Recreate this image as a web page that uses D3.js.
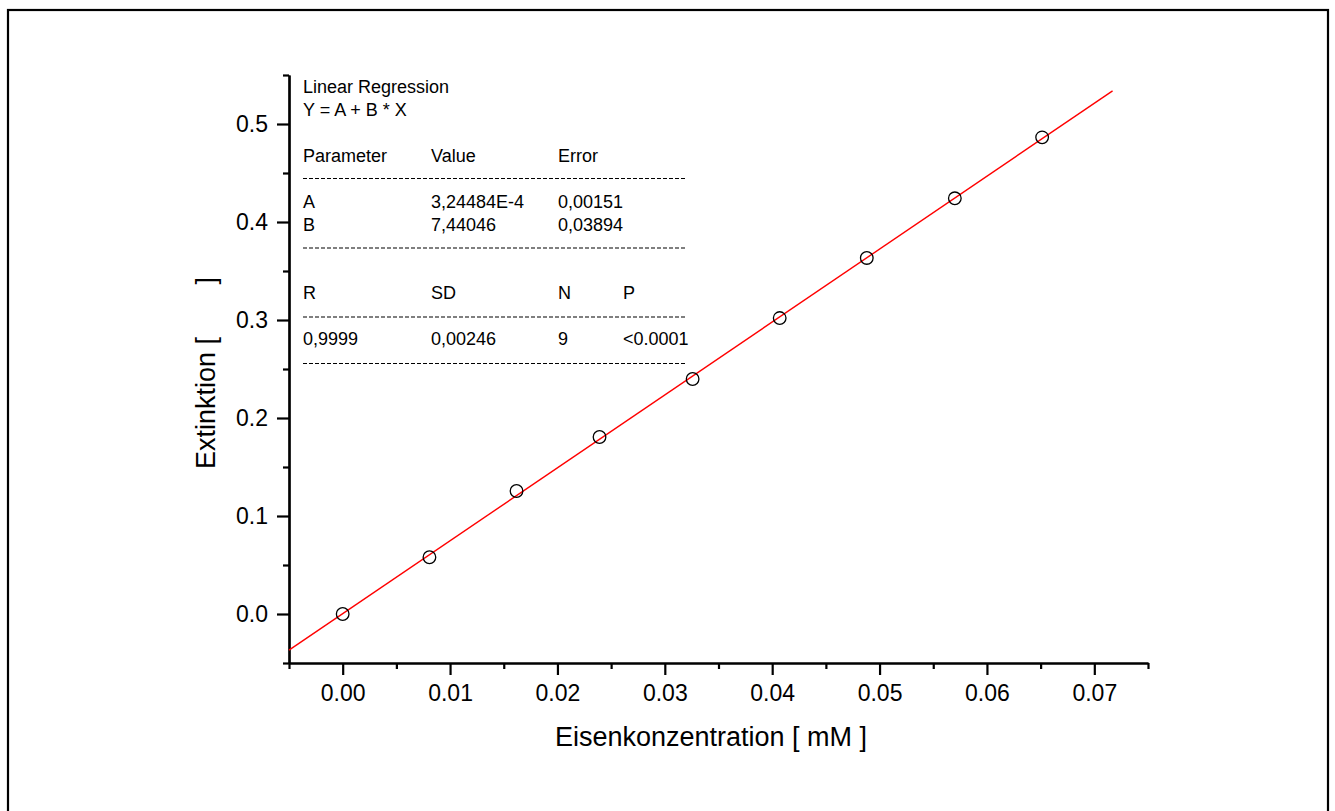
<!DOCTYPE html>
<html>
<head>
<meta charset="utf-8">
<script src="https://cdn.jsdelivr.net/npm/d3@7"></script>
<style>
  html, body { margin: 0; padding: 0; background: #fff; }
  svg { display: block; font-family: "Liberation Sans", Arial, sans-serif; }
</style>
</head>
<body>
<svg id="chart" width="1335" height="811"></svg>
<script>
// ---- data ----
const concentrations = [0, 0.00808, 0.01619, 0.02392, 0.03259, 0.0407, 0.04881, 0.05701, 0.06514];
const extinctions    = [0, 0.0579, 0.1255, 0.1806, 0.2398, 0.302, 0.3633, 0.4242, 0.4864];
const fitA = 3.24484e-4;
const fitB = 7.44046;
const fitXRange = [-0.005, 0.0717];
const xMajorTicks = [0, 0.01, 0.02, 0.03, 0.04, 0.05, 0.06, 0.07];
const xMinorTicks = [-0.005, 0.005, 0.015, 0.025, 0.035, 0.045, 0.055, 0.065, 0.075];
const yMajorTicks = [0, 0.1, 0.2, 0.3, 0.4, 0.5];
const yMinorTicks = [-0.05, 0.05, 0.15, 0.25, 0.35, 0.45, 0.55];
const xTitle = "Eisenkonzentration [ mM ]";
const yTitle = "Extinktion [       ]";
const boxTitle = ["Linear Regression", "Y = A + B * X"];
const paramHeader = ["Parameter", "Value", "Error"];
const paramRows = [["A", "3,24484E-4", "0,00151"], ["B", "7,44046", "0,03894"]];
const statHeader = ["R", "SD", "N", "P"];
const statRow = ["0,9999", "0,00246", "9", "<0.0001"];

// ---- layout ----
const svg = d3.select("#chart");
const x = d3.scaleLinear().domain([-0.005, 0.075]).range([289, 1148]);
const y = d3.scaleLinear().domain([-0.05, 0.55]).range([663, 75]);

// outer frame
svg.append("rect").attr("x", 8).attr("y", 10).attr("width", 1320).attr("height", 830)
  .attr("fill", "none").attr("stroke", "#000").attr("stroke-width", 2.2);

// axes
function styleAxis(g) {
  g.select(".domain").attr("stroke", "#000").attr("stroke-width", 2.2);
  g.selectAll(".tick line").attr("stroke", "#000").attr("stroke-width", 2.2);
  g.selectAll(".tick text").attr("fill", "#000").style("font-size", "23px")
    .style("font-family", "'Liberation Sans', Arial, sans-serif");
}
const xAxisY = y(-0.05), yAxisX = x(-0.005);

const gxMinor = svg.append("g").attr("transform", `translate(0,${xAxisY})`)
  .call(d3.axisBottom(x).tickValues(xMinorTicks).tickSize(6).tickSizeOuter(0).tickFormat(""));
styleAxis(gxMinor);
const gx = svg.append("g").attr("transform", `translate(0,${xAxisY})`)
  .call(d3.axisBottom(x).tickValues(xMajorTicks).tickSize(12).tickSizeOuter(0).tickPadding(10).tickFormat(d3.format(".2f")));
styleAxis(gx);

const gyMinor = svg.append("g").attr("transform", `translate(${yAxisX},0)`)
  .call(d3.axisLeft(y).tickValues(yMinorTicks).tickSize(6).tickSizeOuter(0).tickFormat(""));
styleAxis(gyMinor);
const gy = svg.append("g").attr("transform", `translate(${yAxisX},0)`)
  .call(d3.axisLeft(y).tickValues(yMajorTicks).tickSize(12).tickSizeOuter(0).tickPadding(9).tickFormat(d3.format(".1f")));
styleAxis(gy);

// axis titles
svg.append("text").attr("x", 711).attr("y", 746).attr("text-anchor", "middle")
  .style("font-size", "27px").attr("fill", "#000").text(xTitle);
svg.append("text").attr("transform", "translate(215,373) rotate(-90)").attr("text-anchor", "middle")
  .style("font-size", "27px").style("white-space", "pre").attr("xml:space", "preserve")
  .attr("fill", "#000").text(yTitle);

// regression line
svg.append("line")
  .attr("x1", x(fitXRange[0])).attr("y1", y(fitA + fitB * fitXRange[0]))
  .attr("x2", x(fitXRange[1])).attr("y2", y(fitA + fitB * fitXRange[1]))
  .attr("stroke", "#ff0000").attr("stroke-width", 1.4);

// data points
svg.append("g").selectAll("circle").data(concentrations).join("circle")
  .attr("cx", d => x(d)).attr("cy", (d, i) => y(extinctions[i])).attr("r", 6.3)
  .attr("fill", "none").attr("stroke", "#000").attr("stroke-width", 1.3);

// regression info box
const box = svg.append("g").style("font-size", "18px").attr("fill", "#000");
const colX = [303, 431, 558, 623];
box.append("text").attr("x", colX[0]).attr("y", 93).text(boxTitle[0]);
box.append("text").attr("x", colX[0]).attr("y", 116).text(boxTitle[1]);
paramHeader.forEach((t, i) => box.append("text").attr("x", colX[i]).attr("y", 162).text(t));
paramRows.forEach((row, r) => row.forEach((t, i) =>
  box.append("text").attr("x", colX[i]).attr("y", 208 + r * 23).text(t)));
statHeader.forEach((t, i) => box.append("text").attr("x", colX[i]).attr("y", 299).text(t));
statRow.forEach((t, i) => box.append("text").attr("x", colX[i]).attr("y", 345).text(t));
[178.5, 248, 317, 363.5].forEach(yy =>
  box.append("line").attr("x1", 303).attr("x2", 686).attr("y1", yy).attr("y2", yy)
    .attr("stroke", "#000").attr("stroke-width", 1.2).attr("stroke-dasharray", "4,2"));
</script>
</body>
</html>
